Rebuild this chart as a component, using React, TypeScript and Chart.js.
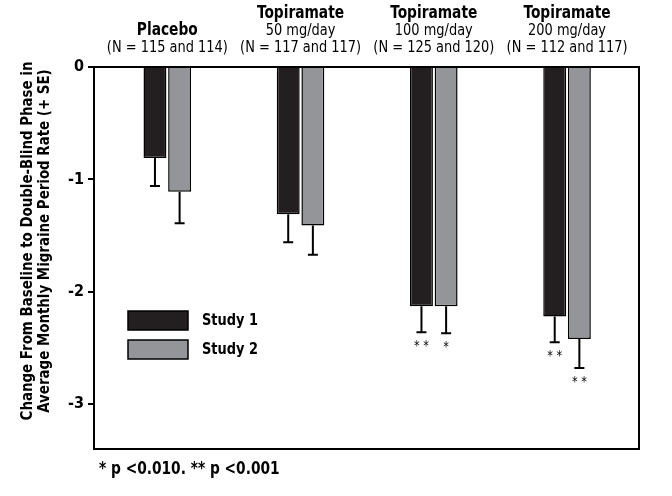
import React, { useEffect, useRef } from "react";
import { Chart, registerables } from "chart.js";

Chart.register(...registerables);

const groupNames = ["Placebo", "Topiramate", "Topiramate", "Topiramate"];
const doseLabels = ["", "50 mg/day", "100 mg/day", "200 mg/day"];
const nLabels = ["(N = 115 and 114)", "(N = 117 and 117)", "(N = 125 and 120)", "(N = 112 and 117)"];
const categories = ["Placebo", "Topiramate 50 mg/day", "Topiramate 100 mg/day", "Topiramate 200 mg/day"];
const study1 = [-0.81, -1.31, -2.13, -2.22];
const study2 = [-1.11, -1.41, -2.13, -2.42];
const study1SE = [0.25, 0.25, 0.23, 0.23];
const study2SE = [0.28, 0.26, 0.24, 0.26];
const study1Sig = ["", "", "**", "**"];
const study2Sig = ["", "", "*", "**"];
const yTicks = [0, -1, -2, -3];
const seriesNames = ["Study 1", "Study 2"];

const FONT = "'DejaVu Sans Condensed', 'Liberation Sans', sans-serif";
const SQ = 0.9;

function txt(ctx: any, s: string, x: number, y: number, font: string, align: string, sq: number = SQ) {
  ctx.save();
  ctx.font = font;
  ctx.textAlign = align;
  ctx.textBaseline = "middle";
  ctx.translate(x, y);
  ctx.scale(sq, 1);
  ctx.fillText(s, 0, 0);
  ctx.restore();
}

export default function App() {
  const ref = useRef<HTMLCanvasElement | null>(null);
  useEffect(() => {
    document.body.style.margin = "0";
    const ses = [study1SE, study2SE];
    const sigs = [study1Sig, study2Sig];
    const plugin = {
      id: "custom",
      afterDatasetsDraw(chart: any) {
        const ctx = chart.ctx;
        const y = chart.scales.y;
        const x = chart.scales.x;
        const ca = chart.chartArea;
        ctx.save();
        ctx.fillStyle = "#000";
        // error bars and stars
        chart.data.datasets.forEach((ds: any, i: number) => {
          const meta = chart.getDatasetMeta(i);
          meta.data.forEach((bar: any, j: number) => {
            const v = ds.data[j].y;
            const y0 = y.getPixelForValue(v);
            const y1 = y.getPixelForValue(v - ses[i][j]);
            ctx.strokeStyle = "#000";
            ctx.lineWidth = 2;
            ctx.beginPath();
            ctx.moveTo(bar.x, y0);
            ctx.lineTo(bar.x, y1);
            ctx.moveTo(bar.x - 5, y1);
            ctx.lineTo(bar.x + 5, y1);
            ctx.stroke();
            if (sigs[i][j]) {
              ctx.fillStyle = "#000";
              txt(ctx, sigs[i][j].split("").join(" "), bar.x, y1 + 14, `14px ${FONT}`, "center");
            }
          });
        });
        // frame
        ctx.strokeStyle = "#000";
        ctx.lineWidth = 2;
        ctx.strokeRect(ca.left, ca.top, ca.right - ca.left, ca.bottom - ca.top);
        // category headers
        ctx.fillStyle = "#000";
        categories.forEach((_c, j) => {
          const cx = x.getPixelForValue(j);
          if (doseLabels[j]) {
            txt(ctx, groupNames[j], cx, 14, `bold 17px ${FONT}`, "center");
            txt(ctx, doseLabels[j], cx, 31, `16px ${FONT}`, "center");
          } else {
            txt(ctx, groupNames[j], cx, 31, `bold 17px ${FONT}`, "center");
          }
          txt(ctx, nLabels[j], cx, 48, `16px ${FONT}`, "center");
        });
        // legend
        const colors = ["#231f20", "#939598"];
        seriesNames.forEach((name, i) => {
          const ly = 311 + i * 29;
          ctx.fillStyle = colors[i];
          ctx.fillRect(128, ly, 60, 19);
          ctx.strokeStyle = "#000";
          ctx.lineWidth = 1.5;
          ctx.strokeRect(128, ly, 60, 19);
          ctx.fillStyle = "#000";
          txt(ctx, name, 202, ly + 10, `bold 16px ${FONT}`, "left");
        });
        // y title
        ctx.save();
        ctx.translate(28, 241);
        ctx.rotate(-Math.PI / 2);
        txt(ctx, "Change From Baseline to Double-Blind Phase in", 0, 0, `bold 16px ${FONT}`, "center", 0.93);
        txt(ctx, "Average Monthly Migraine Period Rate (+ SE)", 0, 17, `bold 16px ${FONT}`, "center", 0.93);
        ctx.restore();
        // footnote
        txt(ctx, "* p <0.010. ** p <0.001", 99, 470, `bold 17px ${FONT}`, "left");
        ctx.restore();
      },
    };
    const chart = new Chart(ref.current as HTMLCanvasElement, {
      type: "bar",
      data: {
        datasets: [
          {
            label: seriesNames[0],
            data: study1.map((v, j) => ({ x: j, y: v })),
            backgroundColor: "#231f20",
            borderColor: "#000",
            borderWidth: 1.5,
          },
          {
            label: seriesNames[1],
            data: study2.map((v, j) => ({ x: j, y: v })),
            backgroundColor: "#939598",
            borderColor: "#000",
            borderWidth: 1.5,
          },
        ],
      },
      options: {
        animation: false,
        responsive: false,
        maintainAspectRatio: false,
        layout: { padding: { left: 0, top: 67, right: 33, bottom: 47 } },
        datasets: { bar: { barPercentage: 0.93, categoryPercentage: 0.37 } },
        plugins: { legend: { display: false }, tooltip: { enabled: false } },
        scales: {
          x: {
            type: "linear",
            display: false,
            offset: false,
            min: -0.55,
            max: 3.54,
            afterBuildTicks(scale: any) {
              scale.ticks = categories.map((_c, j) => ({ value: j }));
            },
          },
          y: {
            min: -3.4,
            max: 0,
            afterFit(scale: any) {
              scale.width = 94;
            },
            afterBuildTicks(scale: any) {
              scale.ticks = yTicks.map((v) => ({ value: v }));
            },
            border: { display: false },
            grid: { drawOnChartArea: false, drawTicks: true, tickLength: 6, color: "#000", lineWidth: 2 },
            ticks: {
              color: "#000",
              font: { family: FONT, size: 16, weight: "bold" },
              padding: 4,
            },
          },
        },
      },
      plugins: [plugin],
    } as any);
    return () => chart.destroy();
  }, []);
  return (
    <div style={{ position: "absolute", left: 0, top: 0, width: 672, height: 496, background: "#fff" }}>
      <canvas ref={ref} width={672} height={496} />
    </div>
  );
}
